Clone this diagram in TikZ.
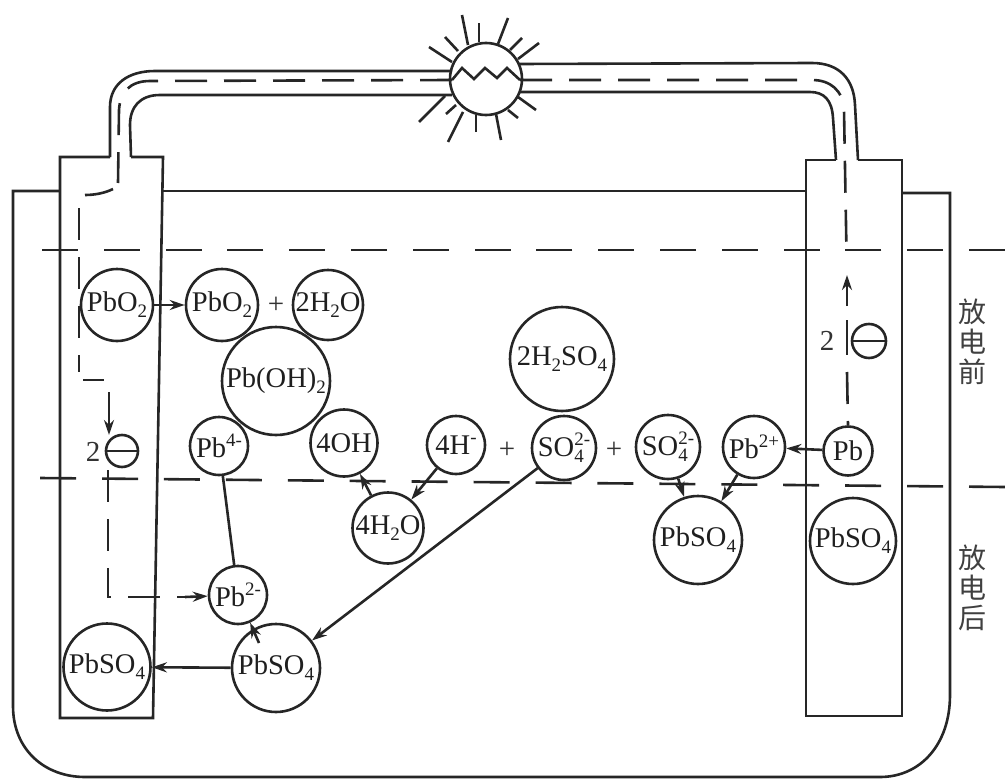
\documentclass[tikz,border=0pt]{standalone}
\usepackage{fontspec}
\setmainfont{Liberation Serif}
\newfontfamily\cjkf{Noto Sans CJK SC}
\usetikzlibrary{arrows.meta}
\tikzset{
  ln/.style={line width=2.6pt,black!85},
  wire/.style={line width=2.6pt,black!85,dash pattern=on 32pt off 17pt},
  level/.style={line width=2.6pt,black!85,dash pattern=on 36pt off 25.8pt},
  arr/.style={line width=2.6pt,black!85,-{Stealth[length=15pt,width=10pt]}},
  ball/.style={circle,draw=black!85,line width=2.6pt,inner sep=0pt,fill=none,align=center,font=\fontsize{28.5}{30}\selectfont,text=black!88},
  lab/.style={inner sep=0pt,font=\fontsize{29}{30}\selectfont,text=black!80},
  cjk/.style={inner sep=0pt,font=\cjkf\fontsize{28}{30}\selectfont,text=black!75},
}
\newcommand{\lowt}[1]{\raisebox{-6pt}{\fontsize{19}{20}\selectfont #1}}
\newcommand{\hight}[1]{\raisebox{11pt}{\fontsize{19}{20}\selectfont #1}}
\newcommand{\both}[2]{\rlap{\lowt{#2}}\hight{#1}}
\begin{document}
\begin{tikzpicture}[x=1pt,y=-1pt]
\useasboundingbox (0,0) rectangle (1005,779);
% tank
\draw[ln] (60,191) -- (13,191) -- (13,706) .. controls (13,750) and (45,777) .. (85,777) -- (880,777) .. controls (920,777) and (950,745) .. (950,695) -- (950,193) -- (902,193);
\draw[ln] (162,191) -- (806,191);
% electrodes
\draw[ln] (110,157) -- (60,157) -- (60,718) -- (153,718) -- (163,157) -- (131,157);
\draw[ln] (836,160) -- (806,160) -- (806,716) -- (902,716) -- (902,160) -- (858,160);
% levels
\coordinate (l1a) at (42,250); \coordinate (l1b) at (1005,250);
\coordinate (l2a) at (40,478); \coordinate (l2b) at (1005,487);
\draw[level] (l1b) -- (l1a);
\draw[level,dash pattern=on 36pt off 25.93pt] (l2b) -- (l2a);
% bulb
\node[circle,draw=black!85,line width=2.6pt,minimum size=72pt,inner sep=0pt] (bulb) at (486,79) {};
% pipe
\draw[ln] (110,157) -- (110,107) .. controls (110,84) and (128,71) .. (155,71) -- (452,71);
\draw[ln] (131,157) -- (130,125) .. controls (130,107) and (140,95) .. (160,95) -- (452,95);
\draw[ln] (519,64) -- (812,63) .. controls (840,63) and (854,80) .. (855,105) -- (858,160);
\draw[ln] (520,92) -- (810,92) .. controls (824,92) and (832,100) .. (833,118) -- (836,160);
% zigzag
\draw[ln] (452,80) -- (462,68) -- (474,79) -- (485,68) -- (497,78) -- (507,68) -- (520,80);
% rays
\foreach \a/\b/\c/\d in {462/15/468/45,479/23/479/42,508/18/498/44,445/37/458/51,429/47/452/62,522/38/510/50,539/43/518/59,419/122/445/96,446/114/456/105,448/142/463/112,476/132/476/115,501/140/496/114,518/118/508/110,536/110/518/97}
  \draw[ln] (\a,\b) -- (\c,\d);
% balls
\node[ball,minimum size=72pt] (a1) at (117,305) {PbO\lowt{2}};
\node[ball,minimum size=72pt] (a2) at (222,305) {PbO\lowt{2}};
\node[ball,minimum size=70pt] (w1) at (328,305) {2H\lowt{2}O};
\node[ball,minimum size=108pt] (hy) at (276,381) {Pb(OH)\lowt{2}};
\node[ball,minimum size=58pt] (p4) at (219,446) {Pb\hight{4-}};
\node[ball,minimum size=67pt] (oh) at (344,443) {4OH};
\node[ball,minimum size=58pt] (hp) at (456,445) {4H\hight{-}};
\node[ball,minimum size=71pt] (w2) at (388,528) {4H\lowt{2}O};
\node[ball,minimum size=58pt] (p2) at (238,595) {Pb\hight{2-}};
\node[ball,minimum size=88pt] (s1) at (276,668) {PbSO\lowt{4}};
\node[ball,minimum size=87pt] (s0) at (107,667) {PbSO\lowt{4}};
\node[ball,minimum size=104pt] (acid) at (562,359) {2H\lowt{2}SO\lowt{4}};
\node[ball,minimum size=64pt] (so1) at (564,448) {SO\both{2-}{4}};
\node[ball,minimum size=64pt] (so2) at (668,447) {SO\both{2-}{4}};
\node[ball,minimum size=62pt] (pp) at (754,447) {Pb\hight{2+}};
\node[ball,minimum size=49pt] (pb) at (848,451) {Pb};
\node[ball,minimum size=88pt] (s2) at (698,540) {PbSO\lowt{4}};
\node[ball,minimum size=86pt] (s3) at (853,541) {PbSO\lowt{4}};
% electrons
\node[ball,minimum size=32pt] (eL) at (122,451) {};
\draw[ln] (eL.west) -- (eL.east);
\node[lab] (twoL) at (93,452) {2};
\node[ball,minimum size=34pt] (eR) at (869,341) {};
\draw[ln] (eR.west) -- (eR.east);
\node[lab] (twoR) at (827,341) {2};
% plus
\node[lab] at (276,305) {+};
\node[lab] at (507,450) {+};
\node[lab] at (614,450) {+};
% side labels
\node[cjk] at (972,312) {放};
\node[cjk] at (972,342) {电};
\node[cjk] at (972,372) {前};
\node[cjk] at (972,558) {放};
\node[cjk] at (972,588) {电};
\node[cjk] at (972,618) {后};
% reaction arrows
\draw[arr] (a1) -- (a2);
\draw[ln] (p4) -- (p2);
\coordinate (sin) at (259,643);
\draw[arr] (sin) -- (p2);
\draw[arr] (so1) -- (s1);
\draw[arr] (s1) -- (s0);
\draw[arr] (w2) -- (oh);
\draw[arr] (hp) -- (w2);
\draw[arr] (so2) -- (s2);
\draw[arr] (pp) -- (s2);
\draw[arr] (pb) -- (pp);
% wires
\coordinate (wa) at (118,183);
\coordinate (wa2) at (113,189);
\coordinate (wb) at (85,195);
\coordinate (wc) at (79,208);
\coordinate (wd) at (79,372);
\coordinate (we) at (83,380);
\coordinate (wh) at (104,380);
\coordinate (wi) at (109,392);
\draw[wire] (452,80) -- (150,81) .. controls (130,81) and (120,92) .. (119,110) -- (wa);
\draw[ln] (wa2) .. controls (105,193) and (95,195) .. (wb);
\draw[wire] (wc) -- (wd);
\draw[ln] (we) -- (wh);
\coordinate (wj) at (109,435);
\draw[arr] (wi) -- (wj);
\coordinate (wf) at (108,470);
\coordinate (wg) at (108,597);
\coordinate (wk) at (185,597);
\draw[wire] (wf) -- (wg) -- (wk);
\draw[arr] (wk) -- (p2);
\draw[wire] (520,80) -- (812,80) .. controls (830,80) and (843,90) .. (844,110) -- (846.5,252);
\coordinate (wl) at (847,306);
\coordinate (wm) at (847,275);
\draw[arr] (wl) -- (wm);
\coordinate (wn) at (847,320);
\coordinate (wo) at (847,355);
\draw[ln] (wn) -- (wo);
\coordinate (wp) at (847,372);
\draw[wire] (wp) -- (pb.north);
\end{tikzpicture}
\end{document}
